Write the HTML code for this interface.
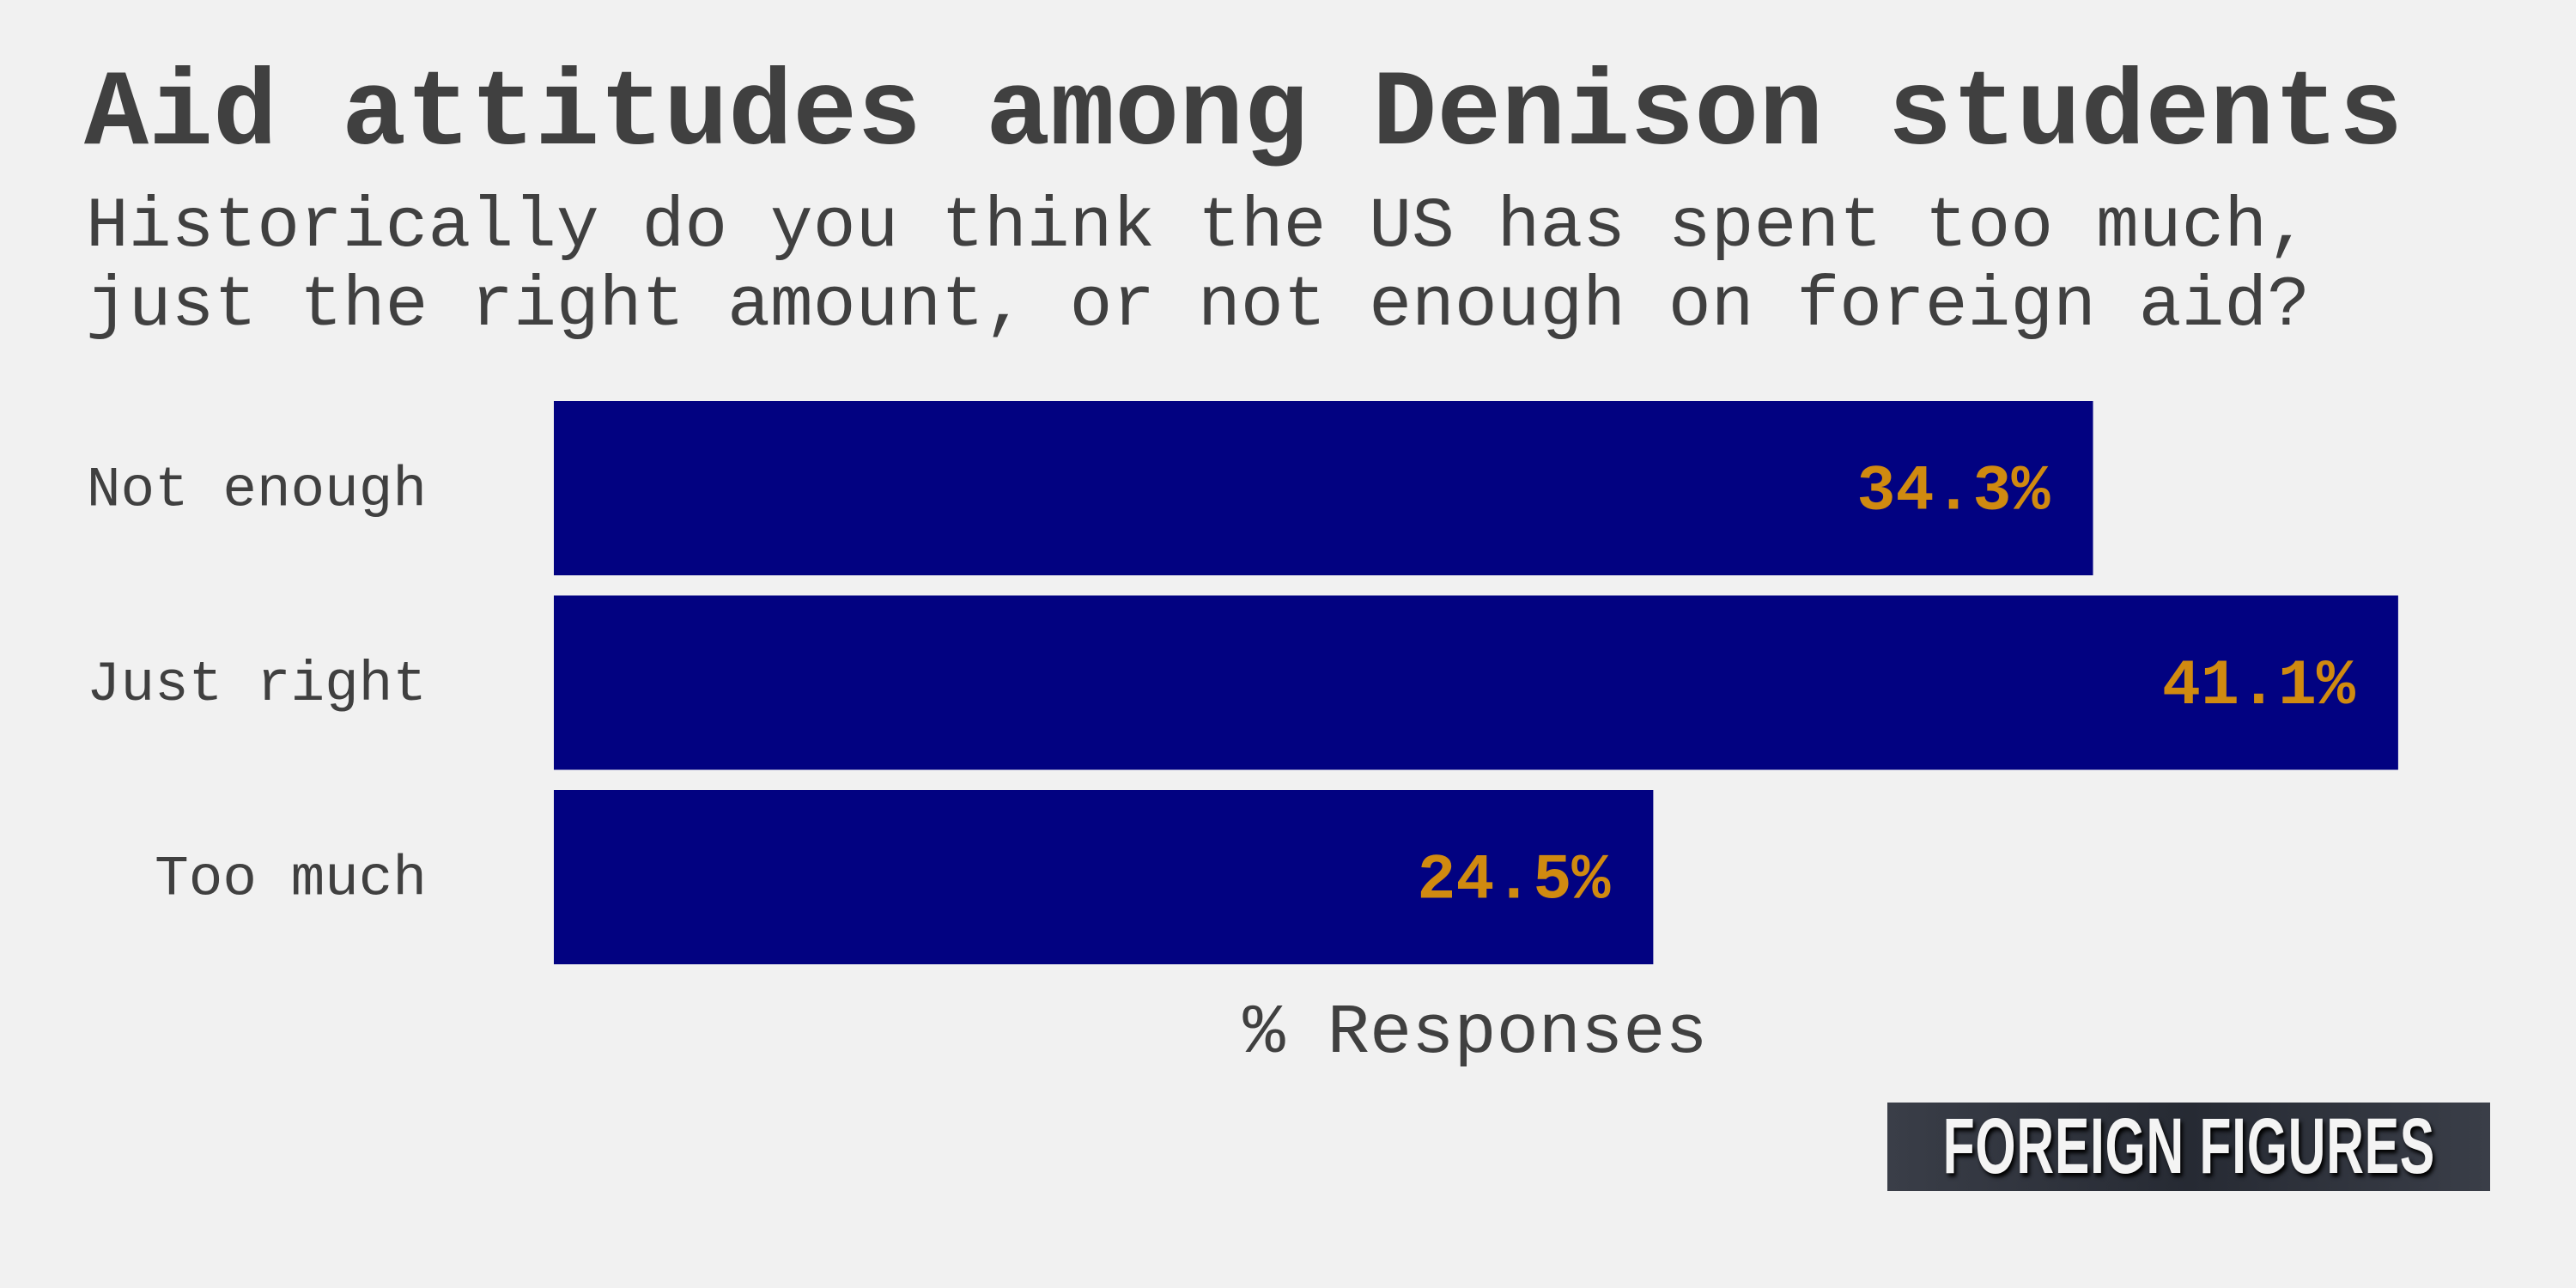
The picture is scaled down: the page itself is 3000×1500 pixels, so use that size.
<!DOCTYPE html>
<html><head><meta charset="utf-8"><style>
body{margin:0;background:#f1f1f1;}
#c{position:relative;width:3000px;height:1500px;overflow:hidden;background:#f1f1f1;font-family:"Liberation Mono",monospace;color:#404040}
.t{position:absolute;white-space:pre}
</style></head><body>
<div id="c">
<div class="t" style="left:98px;top:72px;font-size:125px;font-weight:bold;line-height:125px;color:#404040">Aid attitudes among Denison students</div>
<div class="t" style="left:100px;top:218px;font-size:83px;line-height:92px;color:#404040">Historically do you think the US has spent too much,
just the right amount, or not enough on foreign aid?</div>
<svg id="s" width="3000" height="1500" style="position:absolute;left:0;top:0"></svg>
<div style="position:absolute;left:2198px;top:1284px;width:702px;height:103px;background:linear-gradient(90deg,#3a3e48,#262a33 50%,#3a3e48);display:flex;align-items:center;justify-content:center;overflow:hidden">
<span style="font-family:'Liberation Sans Narrow','Liberation Sans',sans-serif;font-weight:bold;font-size:92px;color:#f4f4f4;transform:scaleX(0.66);white-space:nowrap;letter-spacing:1px;text-shadow:4px 4px 6px #000">FOREIGN FIGURES</span></div>
</div>
<script>
const categories=["Not enough","Just right","Too much"];
const values=[34.3,41.1,24.5];
const valueLabels=["34.3%","41.1%","24.5%"];
const axisTitle="% Responses";
const x0=645,pxPer=52.26;
const xs=v=>x0+v*pxPer;
const bandTop=467,bandStep=226.5,barH=203;
const ns="http://www.w3.org/2000/svg";
const s=document.getElementById('s');
categories.forEach((c,i)=>{
 const y=bandTop+i*bandStep;
 const r=document.createElementNS(ns,'rect');
 
 
 r.setAttribute('x',x0);r.setAttribute('y',y);r.setAttribute('width',xs(values[i])-x0);r.setAttribute('height',barH);r.setAttribute('fill','#020281');
 s.appendChild(r);
 const l=document.createElementNS(ns,'text');
 
 
 l.setAttribute('x',497);l.setAttribute('y',y+barH/2+20);l.setAttribute('text-anchor','end');
 l.setAttribute('font-family','Liberation Mono, monospace');l.setAttribute('font-size','66');l.setAttribute('fill','#404040');
 l.textContent=c;s.appendChild(l);
 const v=document.createElementNS(ns,'text');
 
 
 v.setAttribute('x',xs(values[i])-50);v.setAttribute('y',y+barH/2+24);v.setAttribute('text-anchor','end');
 v.setAttribute('font-family','Liberation Mono, monospace');v.setAttribute('font-weight','bold');v.setAttribute('font-size','75');v.setAttribute('fill','#d08a10');
 v.textContent=valueLabels[i];s.appendChild(v);
});
const a=document.createElementNS(ns,'text');


a.setAttribute('x',1718);a.setAttribute('y',1225);a.setAttribute('text-anchor','middle');
a.setAttribute('font-family','Liberation Mono, monospace');a.setAttribute('font-size','82');a.setAttribute('fill','#404040');
a.textContent=axisTitle;s.appendChild(a);
</script>
</body></html>
